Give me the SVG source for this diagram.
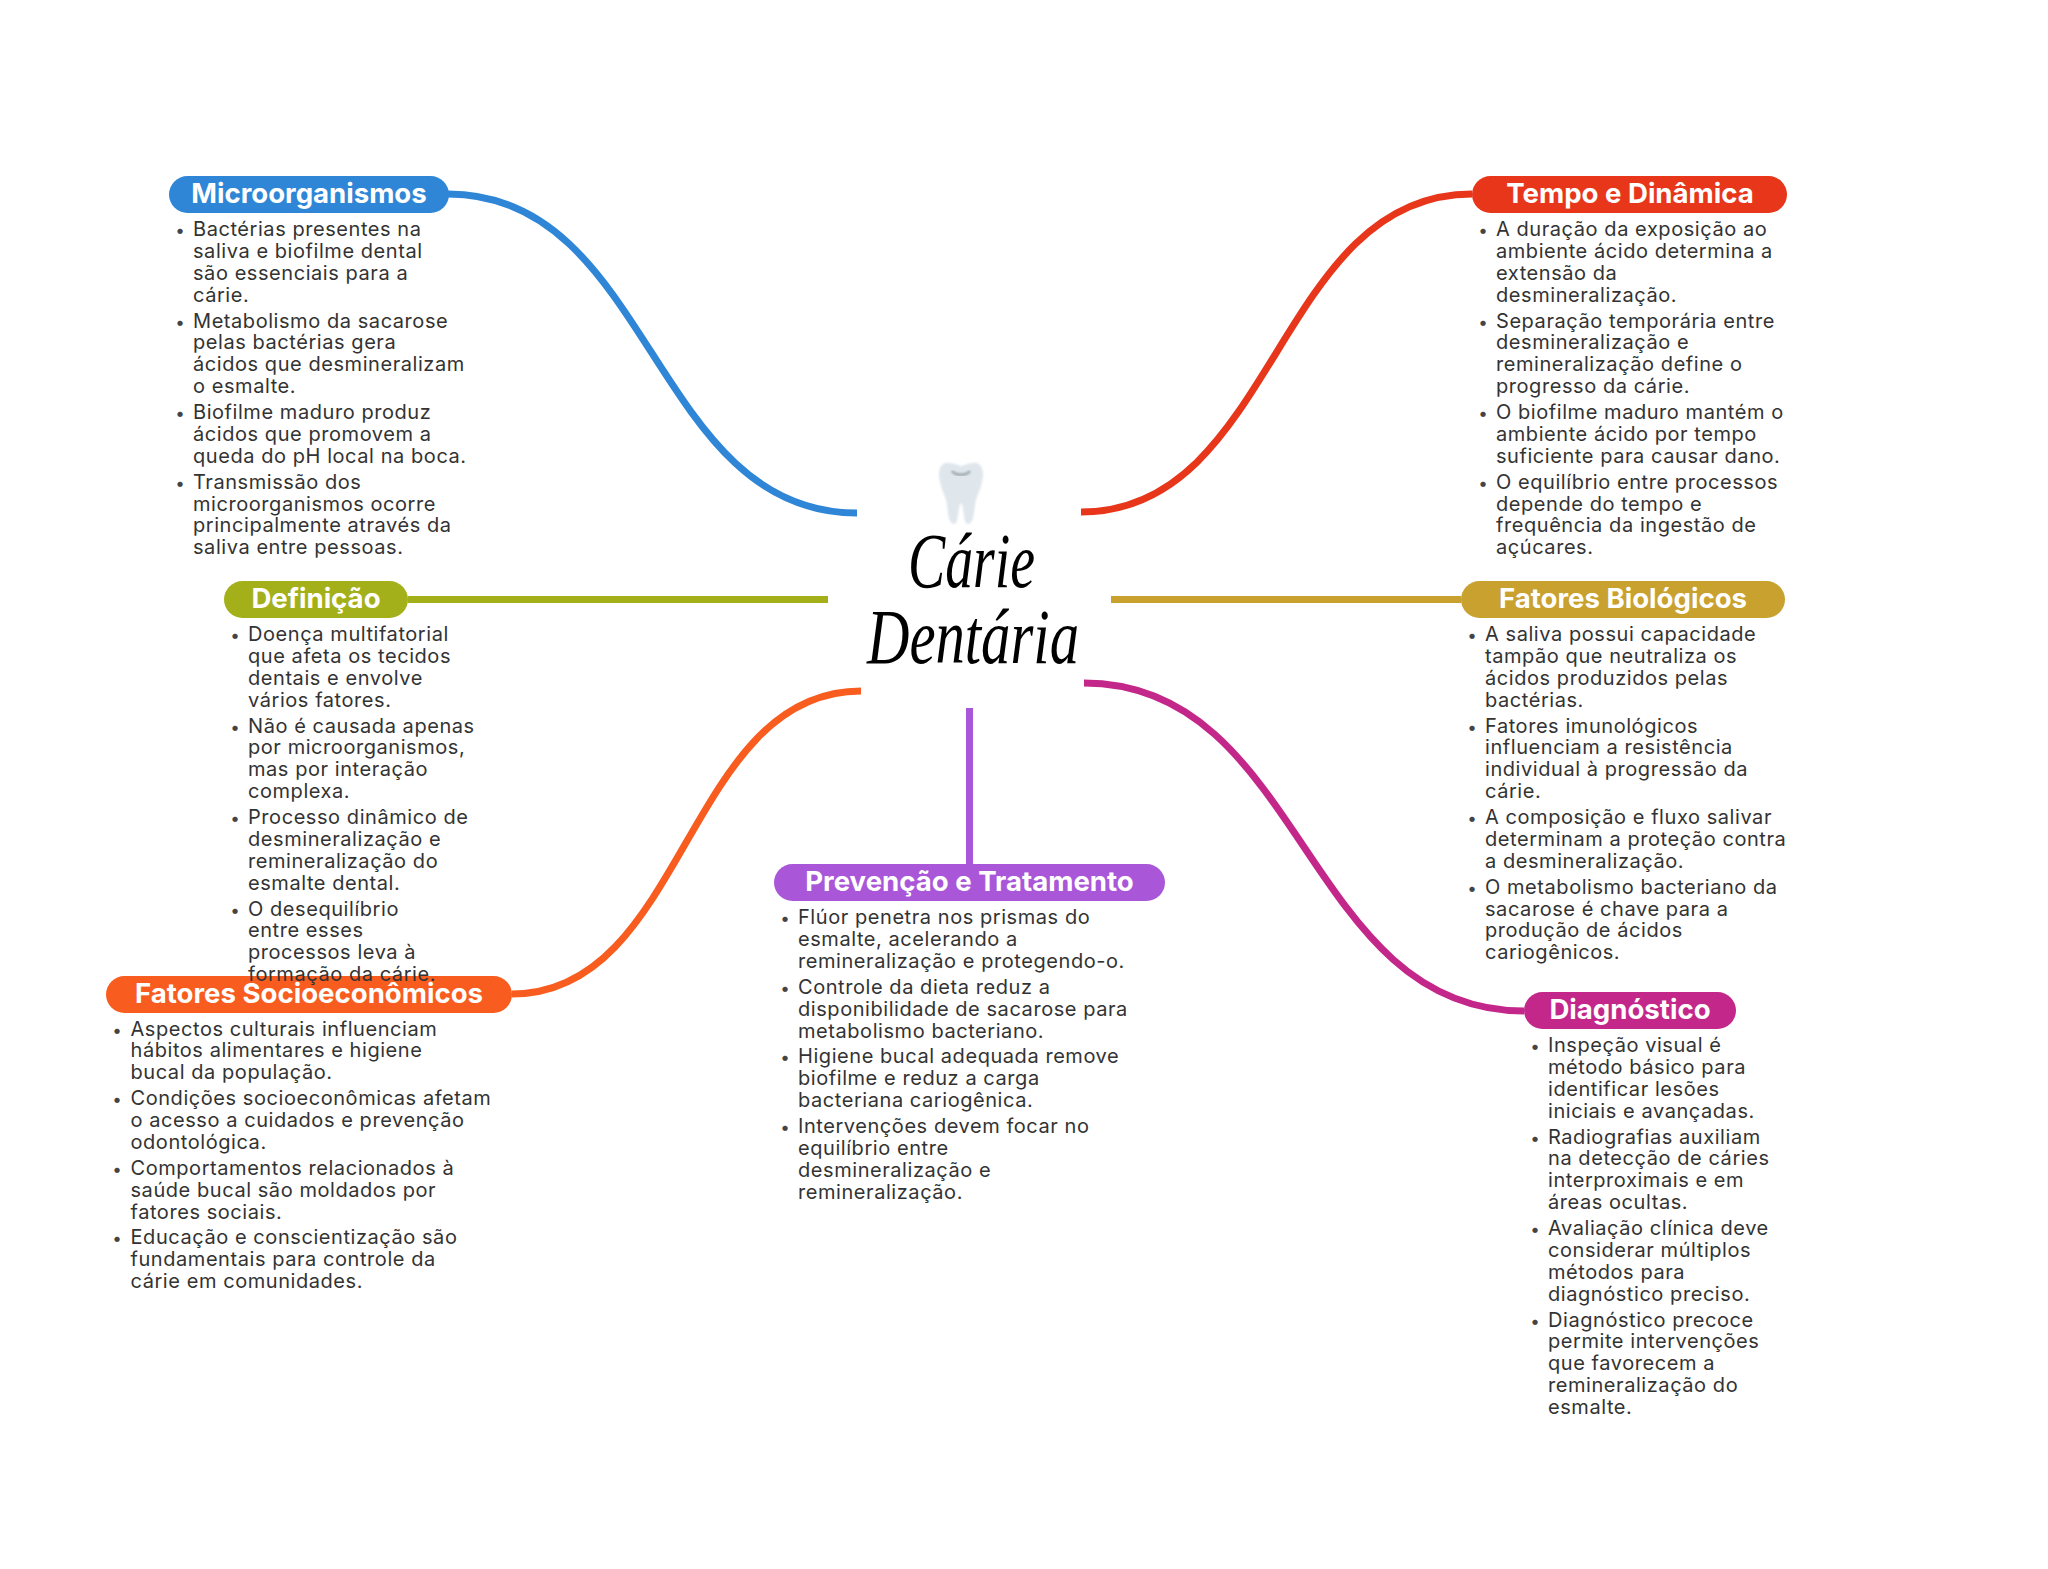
<svg xmlns="http://www.w3.org/2000/svg" width="2048" height="1569" viewBox="0 0 2048 1569">
<style>
.c{fill:none;stroke-width:7}
.h{font:700 27.6px Inter,"Open Sans",sans-serif;fill:#fff;text-anchor:middle}
.t{font:400 20px Inter,"Open Sans",sans-serif;fill:#333;letter-spacing:.56px}
.b{font:400 17px Inter,sans-serif;fill:#444;text-anchor:middle}
.r{font:italic 400 78px "Liberation Serif",serif;fill:#000}
</style>
<defs><filter id="s"><feGaussianBlur stdDeviation="1"/></filter></defs>
<rect width="2048" height="1569" fill="#fff"/>
<g id="connectors">
<path class="c" stroke="#2f86d6" d="M448 194C652 194 652 513 857 513"/>
<path class="c" stroke="#e8361b" d="M1472 194C1276 194 1276 512 1081 512"/>
<path class="c" stroke="#a4b019" d="M408 599.5H828"/>
<path class="c" stroke="#c9a12e" d="M1461 599.5H1111"/>
<path class="c" stroke="#f85c1e" d="M512 994C686 994 686 691 861 691"/>
<path class="c" stroke="#a957d8" d="M969.5 708V864"/>
<path class="c" stroke="#c4278a" d="M1524 1011C1304 1011 1304 683 1084 683"/>
</g>
<g id="center">
<path filter="url(#s)" fill="#dfe6ec" d="M945 463C952 462 956 465 961 466C966 465 970 462 977 463C983 465 984 474 982 482C980 492 976 496 975 505C974 514 973 524 968 524C963 524 964 505 961 503C958 505 959 524 954 524C949 524 948 514 947 505C946 496 942 492 940 482C938 474 939 465 945 463Z"/>
<path filter="url(#s)" fill="none" stroke="#9aa5ad" stroke-width="2.5" d="M952 471C956 476 966 476 970 471"/>
<text class="r" x="908" y="587" textLength="127" lengthAdjust="spacingAndGlyphs">Cárie</text>
<text class="r" x="867" y="663" textLength="212" lengthAdjust="spacingAndGlyphs">Dentária</text>
</g>
<g id="microorganismos">
<rect x="169" y="176" width="280" height="37" rx="18.5" fill="#2f86d6"/>
<text class="h" x="309" y="203">Microorganismos</text>
<text class="b" x="180" y="236">•</text><text class="t" y="236"><tspan x="193">Bactérias presentes na</tspan><tspan x="193" dy="21.9">saliva e biofilme dental</tspan><tspan x="193" dy="21.9">são essenciais para a</tspan><tspan x="193" dy="21.9">cárie.</tspan></text>
<text class="b" x="180" y="327.5">•</text><text class="t" y="327.5"><tspan x="193">Metabolismo da sacarose</tspan><tspan x="193" dy="21.9">pelas bactérias gera</tspan><tspan x="193" dy="21.9">ácidos que desmineralizam</tspan><tspan x="193" dy="21.9">o esmalte.</tspan></text>
<text class="b" x="180" y="419">•</text><text class="t" y="419"><tspan x="193">Biofilme maduro produz</tspan><tspan x="193" dy="21.9">ácidos que promovem a</tspan><tspan x="193" dy="21.9">queda do pH local na boca.</tspan></text>
<text class="b" x="180" y="488.6">•</text><text class="t" y="488.6"><tspan x="193">Transmissão dos</tspan><tspan x="193" dy="21.9">microorganismos ocorre</tspan><tspan x="193" dy="21.9">principalmente através da</tspan><tspan x="193" dy="21.9">saliva entre pessoas.</tspan></text>
</g>
<g id="tempo">
<rect x="1472" y="176" width="315" height="37" rx="18.5" fill="#e8361b"/>
<text class="h" x="1630" y="203">Tempo e Dinâmica</text>
<text class="b" x="1483" y="236">•</text><text class="t" y="236"><tspan x="1496">A duração da exposição ao</tspan><tspan x="1496" dy="21.9">ambiente ácido determina a</tspan><tspan x="1496" dy="21.9">extensão da</tspan><tspan x="1496" dy="21.9">desmineralização.</tspan></text>
<text class="b" x="1483" y="327.5">•</text><text class="t" y="327.5"><tspan x="1496">Separação temporária entre</tspan><tspan x="1496" dy="21.9">desmineralização e</tspan><tspan x="1496" dy="21.9">remineralização define o</tspan><tspan x="1496" dy="21.9">progresso da cárie.</tspan></text>
<text class="b" x="1483" y="419">•</text><text class="t" y="419"><tspan x="1496">O biofilme maduro mantém o</tspan><tspan x="1496" dy="21.9">ambiente ácido por tempo</tspan><tspan x="1496" dy="21.9">suficiente para causar dano.</tspan></text>
<text class="b" x="1483" y="488.6">•</text><text class="t" y="488.6"><tspan x="1496">O equilíbrio entre processos</tspan><tspan x="1496" dy="21.9">depende do tempo e</tspan><tspan x="1496" dy="21.9">frequência da ingestão de</tspan><tspan x="1496" dy="21.9">açúcares.</tspan></text>
</g>
<g id="socioeconomicos">
<rect x="106" y="976" width="406" height="37" rx="18.5" fill="#f85c1e"/>
<text class="h" x="309" y="1003">Fatores Socioeconômicos</text>
<text class="b" x="117" y="1035.5">•</text><text class="t" y="1035.5"><tspan x="130.5">Aspectos culturais influenciam</tspan><tspan x="130.5" dy="21.9">hábitos alimentares e higiene</tspan><tspan x="130.5" dy="21.9">bucal da população.</tspan></text>
<text class="b" x="117" y="1105.1">•</text><text class="t" y="1105.1"><tspan x="130.5">Condições socioeconômicas afetam</tspan><tspan x="130.5" dy="21.9">o acesso a cuidados e prevenção</tspan><tspan x="130.5" dy="21.9">odontológica.</tspan></text>
<text class="b" x="117" y="1174.7">•</text><text class="t" y="1174.7"><tspan x="130.5">Comportamentos relacionados à</tspan><tspan x="130.5" dy="21.9">saúde bucal são moldados por</tspan><tspan x="130.5" dy="21.9">fatores sociais.</tspan></text>
<text class="b" x="117" y="1244.3">•</text><text class="t" y="1244.3"><tspan x="130.5">Educação e conscientização são</tspan><tspan x="130.5" dy="21.9">fundamentais para controle da</tspan><tspan x="130.5" dy="21.9">cárie em comunidades.</tspan></text>
</g>
<g id="definicao">
<rect x="224" y="581" width="184" height="37" rx="18.5" fill="#a4b019"/>
<text class="h" x="316" y="608">Definição</text>
<text class="b" x="235" y="641">•</text><text class="t" y="641"><tspan x="248">Doença multifatorial</tspan><tspan x="248" dy="21.9">que afeta os tecidos</tspan><tspan x="248" dy="21.9">dentais e envolve</tspan><tspan x="248" dy="21.9">vários fatores.</tspan></text>
<text class="b" x="235" y="732.5">•</text><text class="t" y="732.5"><tspan x="248">Não é causada apenas</tspan><tspan x="248" dy="21.9">por microorganismos,</tspan><tspan x="248" dy="21.9">mas por interação</tspan><tspan x="248" dy="21.9">complexa.</tspan></text>
<text class="b" x="235" y="824">•</text><text class="t" y="824"><tspan x="248">Processo dinâmico de</tspan><tspan x="248" dy="21.9">desmineralização e</tspan><tspan x="248" dy="21.9">remineralização do</tspan><tspan x="248" dy="21.9">esmalte dental.</tspan></text>
<text class="b" x="235" y="915.5">•</text><text class="t" y="915.5"><tspan x="248">O desequilíbrio</tspan><tspan x="248" dy="21.9">entre esses</tspan><tspan x="248" dy="21.9">processos leva à</tspan><tspan x="248" dy="21.9">formação da cárie.</tspan></text>
</g>
<g id="biologicos">
<rect x="1461" y="581" width="324" height="37" rx="18.5" fill="#c9a12e"/>
<text class="h" x="1623" y="608">Fatores Biológicos</text>
<text class="b" x="1472" y="641">•</text><text class="t" y="641"><tspan x="1485">A saliva possui capacidade</tspan><tspan x="1485" dy="21.9">tampão que neutraliza os</tspan><tspan x="1485" dy="21.9">ácidos produzidos pelas</tspan><tspan x="1485" dy="21.9">bactérias.</tspan></text>
<text class="b" x="1472" y="732.5">•</text><text class="t" y="732.5"><tspan x="1485">Fatores imunológicos</tspan><tspan x="1485" dy="21.9">influenciam a resistência</tspan><tspan x="1485" dy="21.9">individual à progressão da</tspan><tspan x="1485" dy="21.9">cárie.</tspan></text>
<text class="b" x="1472" y="824">•</text><text class="t" y="824"><tspan x="1485">A composição e fluxo salivar</tspan><tspan x="1485" dy="21.9">determinam a proteção contra</tspan><tspan x="1485" dy="21.9">a desmineralização.</tspan></text>
<text class="b" x="1472" y="893.6">•</text><text class="t" y="893.6"><tspan x="1485">O metabolismo bacteriano da</tspan><tspan x="1485" dy="21.9">sacarose é chave para a</tspan><tspan x="1485" dy="21.9">produção de ácidos</tspan><tspan x="1485" dy="21.9">cariogênicos.</tspan></text>
</g>
<g id="prevencao">
<rect x="774" y="864" width="391" height="37" rx="18.5" fill="#a957d8"/>
<text class="h" x="969.5" y="891">Prevenção e Tratamento</text>
<text class="b" x="785" y="924">•</text><text class="t" y="924"><tspan x="798">Flúor penetra nos prismas do</tspan><tspan x="798" dy="21.9">esmalte, acelerando a</tspan><tspan x="798" dy="21.9">remineralização e protegendo-o.</tspan></text>
<text class="b" x="785" y="993.8">•</text><text class="t" y="993.8"><tspan x="798">Controle da dieta reduz a</tspan><tspan x="798" dy="21.9">disponibilidade de sacarose para</tspan><tspan x="798" dy="21.9">metabolismo bacteriano.</tspan></text>
<text class="b" x="785" y="1063.4">•</text><text class="t" y="1063.4"><tspan x="798">Higiene bucal adequada remove</tspan><tspan x="798" dy="21.9">biofilme e reduz a carga</tspan><tspan x="798" dy="21.9">bacteriana cariogênica.</tspan></text>
<text class="b" x="785" y="1133">•</text><text class="t" y="1133"><tspan x="798">Intervenções devem focar no</tspan><tspan x="798" dy="21.9">equilíbrio entre</tspan><tspan x="798" dy="21.9">desmineralização e</tspan><tspan x="798" dy="21.9">remineralização.</tspan></text>
</g>
<g id="diagnostico">
<rect x="1524" y="992" width="212" height="37" rx="18.5" fill="#c4278a"/>
<text class="h" x="1630" y="1019">Diagnóstico</text>
<text class="b" x="1535" y="1052">•</text><text class="t" y="1052"><tspan x="1548">Inspeção visual é</tspan><tspan x="1548" dy="21.9">método básico para</tspan><tspan x="1548" dy="21.9">identificar lesões</tspan><tspan x="1548" dy="21.9">iniciais e avançadas.</tspan></text>
<text class="b" x="1535" y="1143.5">•</text><text class="t" y="1143.5"><tspan x="1548">Radiografias auxiliam</tspan><tspan x="1548" dy="21.9">na detecção de cáries</tspan><tspan x="1548" dy="21.9">interproximais e em</tspan><tspan x="1548" dy="21.9">áreas ocultas.</tspan></text>
<text class="b" x="1535" y="1235">•</text><text class="t" y="1235"><tspan x="1548">Avaliação clínica deve</tspan><tspan x="1548" dy="21.9">considerar múltiplos</tspan><tspan x="1548" dy="21.9">métodos para</tspan><tspan x="1548" dy="21.9">diagnóstico preciso.</tspan></text>
<text class="b" x="1535" y="1326.5">•</text><text class="t" y="1326.5"><tspan x="1548">Diagnóstico precoce</tspan><tspan x="1548" dy="21.9">permite intervenções</tspan><tspan x="1548" dy="21.9">que favorecem a</tspan><tspan x="1548" dy="21.9">remineralização do</tspan><tspan x="1548" dy="21.9">esmalte.</tspan></text>
</g>
</svg>
